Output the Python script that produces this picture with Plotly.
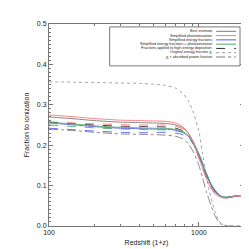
import plotly.graph_objects as go

Z = [100, 150, 200, 300, 400, 500, 600, 700, 780, 850, 920, 1000, 1060, 1120,
     1200, 1280, 1360, 1440, 1550, 1650, 1800, 2000]

best = [.270, .265, .261, .257, .256, .255, .254, .250, .243, .230, .208, .175, .150, .126,
        .102, .085, .076, .071, .070, .072, .074, .072]
photo = [.275, .270, .266, .262, .261, .260, .259, .255, .246, .230, .204, .168, .142, .118,
         .095, .080, .073, .070, .070, .072, .074, .072]
energy = [.255, .250, .246, .242, .241, .240, .240, .237, .232, .222, .204, .176, .152, .128,
          .104, .087, .077, .072, .071, .072, .074, .072]
both = [.257, .252, .248, .244, .243, .242, .242, .239, .234, .224, .206, .179, .155, .131,
        .106, .089, .078, .073, .072, .073, .075, .073]

best_he = [.257, .253, .250, .247, .246, .246, .245, .242, .236, .225, .205, .175, .150, .126,
           .102, .085, .076, .071, .070, .072, .074, .072]
photo_he = [.258, .255, .253, .251, .250, .250, .250, .247, .240, .226, .203, .168, .142, .118,
            .095, .080, .073, .070, .070, .072, .074, .072]
energy_he = [.242, .238, .235, .232, .231, .231, .232, .230, .226, .218, .202, .176, .152, .128,
             .104, .087, .077, .072, .071, .072, .074, .072]
both_he = [.250, .246, .243, .240, .239, .238, .238, .236, .231, .221, .204, .178, .155, .131,
           .106, .089, .078, .073, .072, .073, .075, .073]

chi_orig = [.357, .356, .355, .354, .353, .351, .348, .341, .328, .310, .280, .235, .178, .122,
            .072, .036, .013, .004, 0.0, 0.0, 0.0, 0.0]
chi_abs = [.240, .236, .232, .228, .227, .226, .225, .222, .216, .204, .183, .150, .118, .086,
           .053, .026, .009, .002, 0.0, 0.0, 0.0, 0.0]

legend_labels = [
    "Best estimate",
    "Simplified photoionization",
    "Simplified energy fractions",
    "Simplified energy fractions + photoionization",
    "Fractions applied to high-energy deposition",
    "Original energy fraction \u03c7<sub>i</sub>",
    "\u03c7<sub>i</sub> \u00d7 absorbed power fraction",
]

GRAY = "#7a7a7a"
RED = "#ff7373"
BLUE = "#5a5aff"
GREEN = "#4fa86a"
BLACK = "#333333"
LGRAY = "#9a9a9a"

series = [
    (best_he, BLACK, "dash"),
    (photo_he, RED, "dash"),
    (energy_he, BLUE, "dash"),
    (both_he, GREEN, "dash"),
    (chi_orig, LGRAY, "dot"),
    (chi_abs, GRAY, "dashdot"),
    (best, GRAY, "solid"),
    (energy, BLUE, "solid"),
    (both, GREEN, "solid"),
    (photo, RED, "solid"),
]

fig = go.Figure()
for ys, col, dash in series:
    fig.add_trace(go.Scatter(x=Z, y=ys, mode="lines", showlegend=False,
                             line=dict(color=col, width=0.9, dash=dash, shape="spline", smoothing=0.6)))

# legend drawn manually (compact, IDL-like)
leg_styles = [(GRAY, "solid"), (RED, "solid"), (BLUE, "solid"), (GREEN, "solid"),
              (BLACK, "dash"), (LGRAY, "dot"), (GRAY, "dashdot")]
top_px, bot_px = 14, 221.5
def py(p):
    return (bot_px - p) / (bot_px - top_px)
def px(p):
    return (p - 41) / 196.0

shapes = [dict(type="rect", xref="paper", yref="paper", x0=px(102), x1=px(233),
               y0=py(57), y1=py(17), line=dict(color="#777777", width=1), fillcolor="white")]
annotations = []
rows = [21.5 + 4.4 * i for i in range(len(legend_labels))]
for lab, (col, dash), r in zip(legend_labels, leg_styles, rows):
    shapes.append(dict(type="line", xref="paper", yref="paper", x0=px(209), x1=px(229),
                       y0=py(r), y1=py(r), line=dict(color=col, width=1, dash=dash)))
    annotations.append(dict(xref="paper", yref="paper", x=px(206), y=py(r), text=lab,
                            showarrow=False, xanchor="right", yanchor="middle", borderpad=0,
                            font=dict(size=3.7, color="#222222", family="Liberation Sans")))

fig.update_layout(
    width=249, height=249,
    margin=dict(l=41, r=12, t=14, b=27.5),
    paper_bgcolor="white", plot_bgcolor="white",
    font=dict(family="Liberation Sans", size=7, color="#222222"),
    shapes=shapes, annotations=annotations, showlegend=False,
    xaxis=dict(type="log", range=[2, 3.30103], tickmode="array",
               tickvals=[100, 1000], ticktext=["100", "1000"],
               ticks="inside", ticklen=4, tickcolor="#777777",
               showline=True, linecolor="#777777", linewidth=1, mirror="allticks",
               showgrid=False, zeroline=False,
               minor=dict(tickmode="array", tickvals=[200, 300, 400, 500, 600, 700, 800, 900, 2000],
                          ticks="inside", ticklen=2, tickcolor="#777777", showgrid=False),
               title=dict(text="Redshift (1+z)", font=dict(size=7), standoff=4)),
    yaxis=dict(range=[0, 0.5], tickmode="linear", tick0=0, dtick=0.1, tickformat=".1f",
               ticks="inside", ticklen=4, tickcolor="#777777",
               showline=True, linecolor="#777777", linewidth=1, mirror="allticks",
               showgrid=False, zeroline=False,
               minor=dict(dtick=0.01, ticks="inside", ticklen=2, tickcolor="#777777", showgrid=False),
               title=dict(text="Fraction to ionization", font=dict(size=7), standoff=6)),
)

fig.write_html("out.html")
